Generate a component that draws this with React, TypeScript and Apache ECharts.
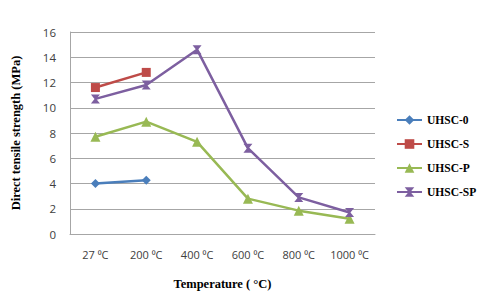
import React, { useEffect, useRef } from "react";
import * as echarts from "echarts";

const categories = ["27 ⁰C", "200 ⁰C", "400 ⁰C", "600 ⁰C", "800 ⁰C", "1000 ⁰C"];
const uhsc0 = [4.0, 4.25, null, null, null, null];
const uhscS = [11.6, 12.8, null, null, null, null];
const uhscP = [7.7, 8.9, 7.3, 2.8, 1.85, 1.2];
const uhscSP = [10.7, 11.8, 14.6, 6.8, 2.9, 1.7];
const yTicks = { min: 0, max: 16, interval: 2 };

const hourglass = "path://M0,0 L10,0 L6,5 L10,10 L0,10 L4,5 Z";

export default function App() {
  const ref = useRef<HTMLDivElement>(null);
  useEffect(() => {
    if (!ref.current) return;
    const chart = echarts.init(ref.current, undefined, { renderer: "svg" });
    const mk = (name: string, data: any[], color: string, symbol: string, size: number) => ({
      name,
      type: "line",
      data,
      symbol,
      symbolSize: size,
      connectNulls: false,
      lineStyle: { color, width: 2.5 },
      itemStyle: { color },
    });
    chart.setOption({
      animation: false,
      backgroundColor: "#fff",
      grid: { left: 70, right: 105, top: 32, bottom: 74 },
      legend: {
        orient: "vertical",
        left: 391,
        top: 109,
        itemGap: 12,
        itemWidth: 25,
        itemHeight: 12,
        textStyle: { fontFamily: "Liberation Serif", fontWeight: "bold", fontSize: 11.5, color: "#000" },
        data: ["UHSC-0", "UHSC-S", "UHSC-P", "UHSC-SP"],
      },
      xAxis: {
        type: "category",
        data: categories,
        name: "Temperature ( \u00B0C)",
        nameLocation: "middle",
        nameGap: 43,
        nameTextStyle: { fontFamily: "Liberation Serif", fontWeight: "bold", fontSize: 12.5, color: "#000" },
        axisLine: { lineStyle: { color: "#a6a6a6", width: 1 } },
        axisTick: { show: false },
        axisLabel: { interval: 0, fontFamily: "Open Sans", fontSize: 11, color: "#404040", margin: 15 },
      },
      yAxis: {
        type: "value",
        min: yTicks.min,
        max: yTicks.max,
        interval: yTicks.interval,
        name: "Direct tensile strength (MPa)",
        nameLocation: "middle",
        nameGap: 48,
        nameTextStyle: { fontFamily: "Liberation Serif", fontWeight: "bold", fontSize: 12.5, color: "#000" },
        axisLine: { show: true, lineStyle: { color: "#a6a6a6", width: 1 } },
        axisTick: { show: false },
        axisLabel: { fontFamily: "Open Sans", fontSize: 11.5, color: "#404040", margin: 14 },
        splitLine: { lineStyle: { color: "#a6a6a6", width: 1 } },
      },
      series: [
        mk("UHSC-0", uhsc0, "#4a7ebb", "diamond", 9),
        mk("UHSC-S", uhscS, "#be4b48", "rect", 9),
        mk("UHSC-P", uhscP, "#98b954", "triangle", 10),
        mk("UHSC-SP", uhscSP, "#7d5fa0", hourglass, 9),
      ],
    });
    return () => chart.dispose();
  }, []);
  return <div ref={ref} style={{ width: 480, height: 308, position: "absolute", left: 0, top: 0 }} />;
}
